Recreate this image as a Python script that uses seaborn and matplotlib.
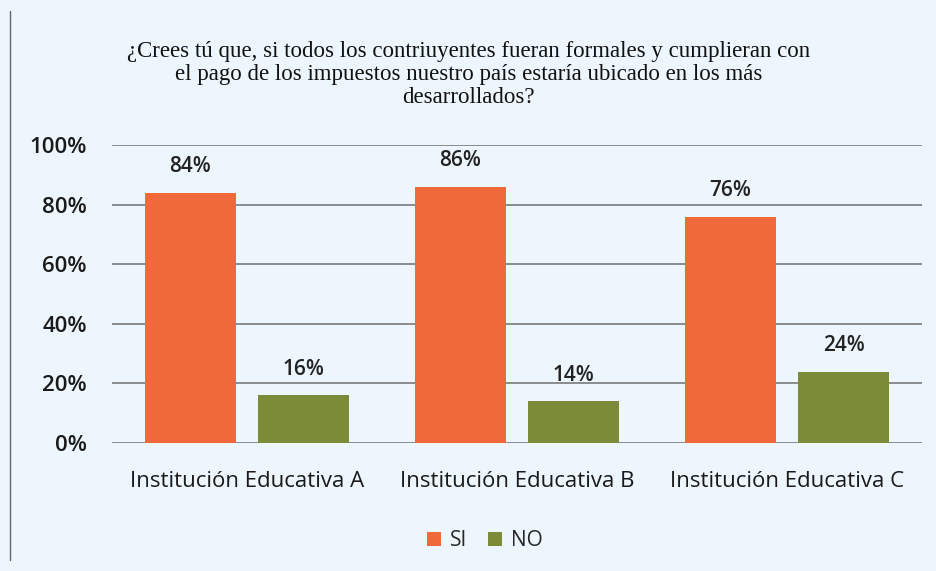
import pandas as pd
import matplotlib.pyplot as plt
import seaborn as sns

# data
instituciones = ['Institución Educativa A', 'Institución Educativa B', 'Institución Educativa C']
si_values = [84, 86, 76]
no_values = [16, 14, 24]
series = ['SI', 'NO']

df = pd.DataFrame({
    'institucion': instituciones * 2,
    'respuesta': ['SI'] * 3 + ['NO'] * 3,
    'valor': si_values + no_values,
})

sns.set_theme(style="white")
plt.rcParams['font.family'] = ['Open Sans', 'DejaVu Sans']

bg = '#edf6fc'
fig = plt.figure(figsize=(9.37, 5.71), dpi=100, facecolor=bg)
ax = fig.add_axes([0.1195, 0.224, 0.8645, 0.522])
ax.set_facecolor(bg)

palette = {'SI': '#f0693a', 'NO': '#7b8b38'}
sns.barplot(data=df, x='institucion', y='valor', hue='respuesta',
            hue_order=series, order=instituciones, palette=palette,
            width=0.84, gap=0.2, saturation=1, linewidth=0, ax=ax, zorder=3)

for cont in ax.containers:
    ax.bar_label(cont, labels=[f'{v:.0f}%' for v in cont.datavalues],
                 padding=11, fontsize=15, fontweight='semibold', color='#222222')

ax.set_ylim(0, 100)
ax.set_yticks(range(0, 101, 20))
ax.set_yticklabels([f'{v}%' for v in range(0, 101, 20)], fontsize=16,
                   fontweight='semibold', color='#1a1a1a')
ax.tick_params(axis='x', labelsize=16, colors='#1a1a1a', pad=20, length=0)
for lbl in ax.get_xticklabels():
    lbl.set_fontweight('medium')
ax.tick_params(axis='y', length=0, pad=18)
ax.yaxis.grid(True, color='#7a7a7a', linewidth=1.2, zorder=0)
ax.set_axisbelow(True)
for s in ax.spines.values():
    s.set_visible(False)
ax.set_xlabel('')
ax.set_ylabel('')
ax.set_xlim(-0.5, 2.5)

ax.legend(loc='upper center', bbox_to_anchor=(0.46, -0.23), ncol=2, frameon=False,
          fontsize=15, handlelength=0.7, handleheight=0.7, handletextpad=0.4,
          columnspacing=1.0)

fig.text(0.5, 0.869,
         '¿Crees tú que, si todos los contriuyentes fueran formales y cumplieran con\n'
         'el pago de los impuestos nuestro país estaría ubicado en los más\n'
         'desarrollados?',
         ha='center', va='center', fontsize=16.5, family='Liberation Serif',
         linespacing=1.13, color='#111111')

# outer frame line on the left like the screenshot
fig.add_artist(plt.Line2D([0.011, 0.011], [0.02, 0.98], color='#666666', linewidth=1))

fig.savefig('out.png', dpi=100, facecolor=bg)
